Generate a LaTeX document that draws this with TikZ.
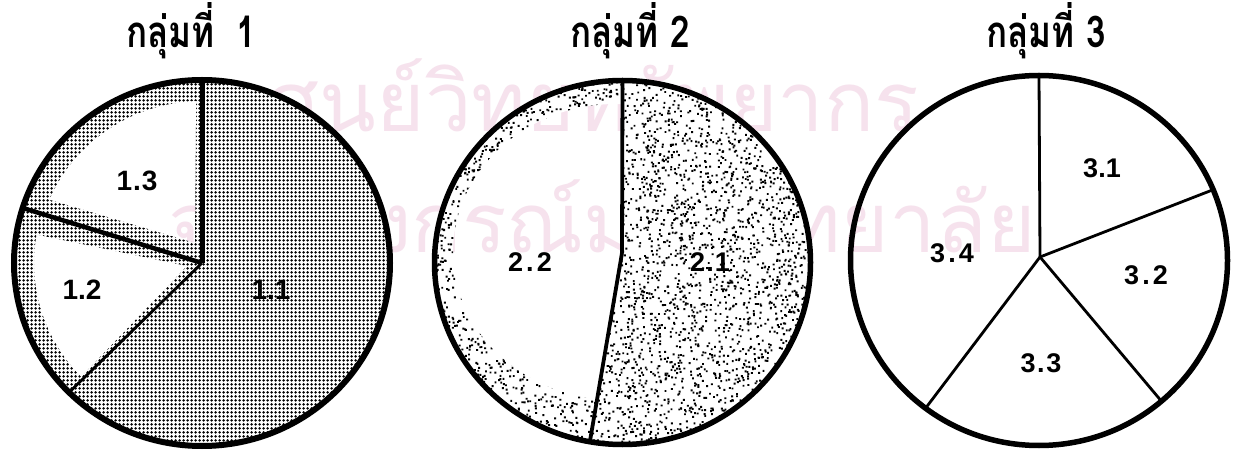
\documentclass[tikz,border=0pt]{standalone}
\usepackage{fontspec}
\setmainfont{Liberation Sans}
\newfontfamily\thaifont[Script=Thai]{Loma}
\usetikzlibrary{patterns.meta,calc}
\definecolor{wmpink}{RGB}{246,226,237}
\begin{document}
\begin{tikzpicture}[x=1pt,y=1pt,
  outline/.style={line width=5.5pt},
  divider/.style={line width=3.8pt},
  thindiv/.style={line width=2.8pt},
  lab/.style={font=\fontsize{27}{27}\selectfont\bfseries, inner sep=0pt},
  bigl/.style={font=\fontsize{28}{28}\selectfont\bfseries},
  ttl/.style={font=\thaifont\fontsize{35}{35}\selectfont\bfseries, anchor=base, inner sep=0pt},
  wm/.style={font=\thaifont\fontsize{83}{83}\selectfont, text=wmpink, inner sep=0pt, anchor=base},
  dotfill/.style={pattern={Dots[radius=1.75pt,distance=4pt]}},
]
\useasboundingbox (0,0) rectangle (1236,455);
\fill[white] (0,0) rectangle (1236,455);

% ---------- watermark (behind) ----------
\node[wm] (w1) at (593,323) {ศูนย์วิทยทรัพยากร};
\node[wm] (w2) at (602,202) {จุฬาลงกรณ์มหาวิทยาลัย};

% centres and junctions
\coordinate (C1) at (202,192);
\coordinate (C2) at (622.5,192.5);
\coordinate (J2) at (622,202);
\coordinate (I2) at (616,203);
\coordinate (C3) at (1039,194.5);
\coordinate (J3) at (1040,198);

% ---------- Pie 1 ----------
\coordinate (A1) at ([shift={(90:188 and 183)}]C1);
\coordinate (B1) at ([shift={(162.5:188 and 183)}]C1);
\coordinate (D1) at ([shift={(225:188 and 183)}]C1);
\coordinate (R1) at ([shift={(0:188 and 183)}]C1);
\begin{scope}
  \clip (R1) arc[start angle=0, end angle=360, x radius=188, y radius=183]
     [shift={(C1)}]
     (-7,20) -- (157:166 and 162)
        arc[start angle=157, end angle=92, x radius=166, y radius=162] -- cycle
     (170:168 and 164) -- (-15,-3) -- (224:168 and 164)
        arc[start angle=224, end angle=170, x radius=168, y radius=164] -- cycle;
  \fill[white] (0,0) rectangle (420,455);
  \fill[dotfill] (0,0) rectangle (420,455);
\end{scope}
\draw[divider, line width=5pt] (C1) -- (A1);
\draw[divider, line width=4.5pt] (C1) -- (B1);
\draw[thindiv] (C1) -- (D1);
\draw[outline, line width=6pt] (C1) ellipse[x radius=188, y radius=183];

% ---------- Pie 2 ----------
\coordinate (A2) at ([shift={(90:188 and 182)}]C2);
\coordinate (B2) at ([shift={(260:188 and 182)}]C2);
\coordinate (R2) at ([shift={(0:188 and 182)}]C2);
\coordinate (K2) at ([shift={(263.4:163 and 148)}]I2);
\begin{scope}
  \clip (R2) arc[start angle=0, end angle=360, x radius=188, y radius=182]
        (K2) arc[start angle=263.4, end angle=87.9, x radius=163, y radius=148]
        -- (J2) -- cycle;
  \fill[white] (420,0) rectangle (830,455);
  \pgfmathsetseed{12}
  \foreach \j in {1,...,12} {
    \fill[shift={(C2)}] foreach \i in {1,...,400} {({188*rand},{182*rand}) rectangle ++(1.9,1.9)};
  }
\end{scope}
\draw[divider] (J2) -- (A2);
\draw[divider] (J2) -- (B2);
\draw[outline] (C2) ellipse[x radius=188, y radius=182];

% ---------- Pie 3 ----------
\coordinate (A3) at ([shift={(90:188.5 and 185)}]C3);
\coordinate (B3) at ([shift={(22.5:188.5 and 185)}]C3);
\coordinate (D3) at ([shift={(-49.5:188.5 and 185)}]C3);
\coordinate (E3) at ([shift={(233:188.5 and 185)}]C3);
\draw[thindiv] (J3) -- (A3);
\draw[thindiv] (J3) -- (B3);
\draw[thindiv] (J3) -- (D3);
\draw[thindiv] (J3) -- (E3);
\draw[outline] (C3) ellipse[x radius=188.5, y radius=185];

% ---------- labels ----------
\node[lab, bigl] (l13) at (137,274) {1\kern1pt.\kern1pt3};
\node[lab, bigl] (l12) at (82,165) {1.2};
\node[lab, bigl] (l11) at (271,165) {1.1};
\node[lab] (l22) at (530,193) {2\kern3pt.\kern3pt2};
\node[lab] (l21) at (710,193) {2\kern1pt.\kern1pt1};
\node[lab] (l31) at (1102,287) {3.1};
\node[lab] (l32) at (1146,180) {3\kern3pt.\kern3pt2};
\node[lab] (l33) at (1041,92) {3\kern1.5pt.\kern1.5pt3};
\node[lab] (l34) at (952,202) {3\kern3pt.\kern3pt4};

% ---------- titles ----------
\node[ttl] (t1) at (191,407) {\scalebox{1}[1.25]{กลุ่มที่\kern10pt\ 1}};
\node[ttl] (t2) at (630,407) {\scalebox{1}[1.25]{กลุ่มที่ 2}};
\node[ttl] (t3) at (1046,407) {\scalebox{1}[1.25]{กลุ่มที่ 3}};
\end{tikzpicture}
\end{document}
